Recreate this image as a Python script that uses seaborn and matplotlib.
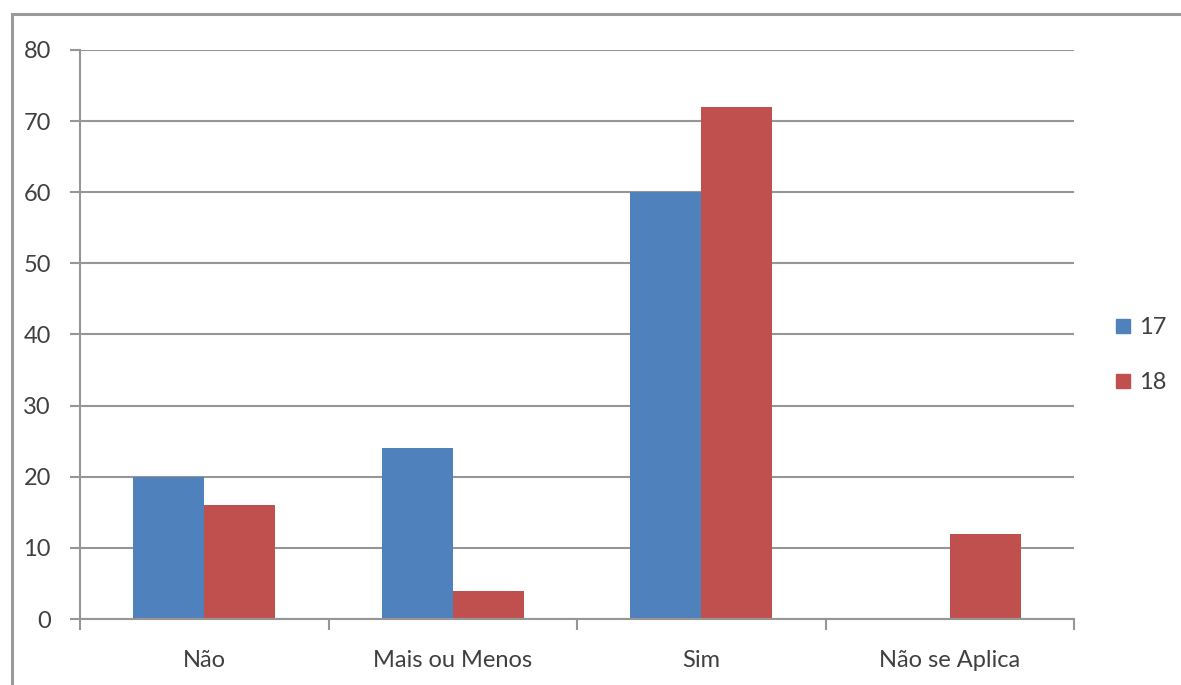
import matplotlib
matplotlib.use("Agg")
import matplotlib.pyplot as plt
import seaborn as sns
import pandas as pd
from matplotlib.patches import Rectangle
from matplotlib.lines import Line2D

categories = ["Não", "Mais ou Menos", "Sim", "Não se Aplica"]
series_names = ["17", "18"]
values_17 = [20, 24, 60, 0]
values_18 = [16, 4, 72, 12]
y_ticks = [0, 10, 20, 30, 40, 50, 60, 70, 80]

colors = {"17": "#4F81BD", "18": "#C0504D"}
grid_color = "#969696"
text_color = "#404040"

df = pd.DataFrame({
    "categoria": categories * 2,
    "serie": [series_names[0]] * len(categories) + [series_names[1]] * len(categories),
    "valor": values_17 + values_18,
})

sns.set_style("white")
plt.rcParams["font.family"] = ["Lato", "DejaVu Sans"]

fig = plt.figure(figsize=(11.81, 6.85), dpi=100)
fig.patch.set_facecolor("white")
ax = fig.add_axes([80 / 1181, 1 - 619 / 685, (1074 - 80) / 1181, (619 - 50) / 685])

sns.barplot(data=df, x="categoria", y="valor", hue="serie", order=categories,
            hue_order=series_names, palette=colors, width=0.57, saturation=1,
            linewidth=0, ax=ax, legend=False)

ax.set_ylim(0, 80)
ax.set_xlim(-0.5, len(categories) - 0.5)
ax.set_yticks(y_ticks)
ax.set_xlabel("")
ax.set_ylabel("")

# horizontal gridlines behind bars
ax.set_axisbelow(True)
ax.yaxis.grid(True, color=grid_color, linewidth=1.5)
ax.xaxis.grid(False)

for side in ["top", "right"]:
    ax.spines[side].set_visible(False)
for side in ["left", "bottom"]:
    ax.spines[side].set_color(grid_color)
    ax.spines[side].set_linewidth(1.5)

ax.tick_params(axis="y", direction="out", length=7, width=1.5, color=grid_color,
               labelsize=17, labelcolor=text_color, pad=14, left=True)
ax.tick_params(axis="x", which="major", length=0, labelsize=17,
               labelcolor=text_color, pad=22)
# category boundary ticks
ax.set_xticks([i - 0.5 for i in range(len(categories) + 1)], minor=True)
ax.tick_params(axis="x", which="minor", direction="out", length=8, width=1.5,
               color=grid_color, bottom=True)

handles = [Line2D([0], [0], marker="s", linestyle="none", markersize=10,
                  markerfacecolor=colors[s], markeredgecolor=colors[s]) for s in series_names]
leg = fig.legend(handles, series_names, loc="center left",
                 bbox_to_anchor=(1115 / 1181, 1 - 355 / 685), frameon=False,
                 borderpad=0, borderaxespad=0,
                 fontsize=17, handletextpad=0.3, labelspacing=1.43, handlelength=0.7)
for t in leg.get_texts():
    t.set_color(text_color)

# chart frame
fig.add_artist(Rectangle((12 / 1181, -0.05), 1.2, 1 - 14 / 685 + 0.05,
                         transform=fig.transFigure, fill=False,
                         edgecolor="#9a9a9a", linewidth=2.2))

fig.savefig("out.png", dpi=100, facecolor="white")
